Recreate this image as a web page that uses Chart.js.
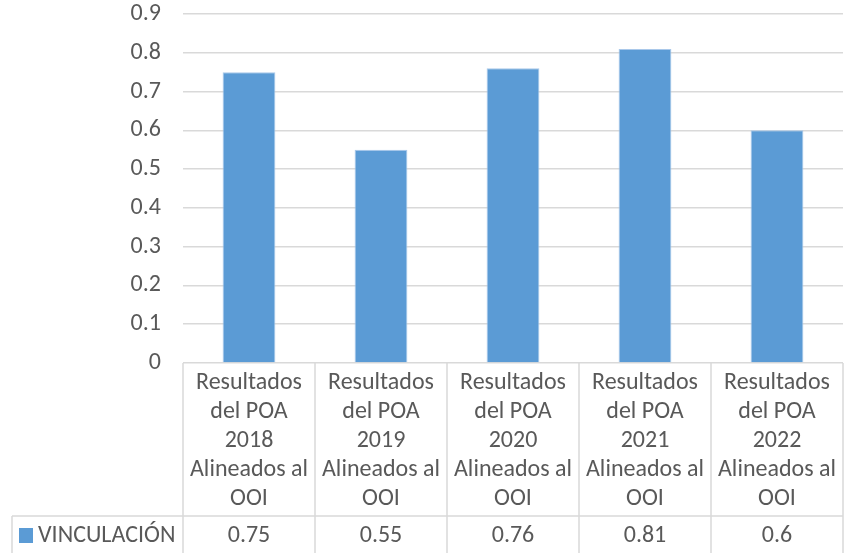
<!DOCTYPE html>
<html lang="es">
<head>
<meta charset="UTF-8">
<title>Vinculación</title>
<style>
  body { margin: 0; background: #fff; }
  #wrap { width: 853px; height: 553px; }
</style>
</head>
<body>
<div id="wrap"><canvas id="grafico"></canvas></div>
<script src="https://cdn.jsdelivr.net/npm/chart.js"></script>
<script>
  const CATEGORIAS = [
    ['Resultados', 'del POA', '2018', 'Alineados al', 'OOI'],
    ['Resultados', 'del POA', '2019', 'Alineados al', 'OOI'],
    ['Resultados', 'del POA', '2020', 'Alineados al', 'OOI'],
    ['Resultados', 'del POA', '2021', 'Alineados al', 'OOI'],
    ['Resultados', 'del POA', '2022', 'Alineados al', 'OOI']
  ];
  const SERIE = 'VINCULACIÓN';
  const VALORES = [0.75, 0.55, 0.76, 0.81, 0.6];

  const FUENTE = 'Carlito, "Liberation Sans Narrow", "Liberation Sans", sans-serif';
  const GRIS = '#d9d9d9';
  const TEXTO = '#595959';
  const AZUL = '#5b9bd5';

  // tabla de datos debajo del eje (como en Excel)
  const tablaDatos = {
    id: 'tablaDatos',
    afterDraw(chart) {
      const { ctx, chartArea, scales: { x } } = chart;
      const paso = x.getPixelForValue(1) - x.getPixelForValue(0);
      const inicio = x.getPixelForValue(0) - paso / 2;
      const arriba = chartArea.bottom;
      const filaValores = arriba + 153;
      const fondo = chart.height;

      ctx.save();
      ctx.strokeStyle = GRIS;
      ctx.lineWidth = 1.5;
      ctx.beginPath();
      for (let i = 0; i <= VALORES.length; i++) {
        const px = inicio + i * paso;
        ctx.moveTo(px, arriba);
        ctx.lineTo(px, fondo);
      }
      ctx.moveTo(12, filaValores);
      ctx.lineTo(inicio + VALORES.length * paso, filaValores);
      ctx.moveTo(12, filaValores);
      ctx.lineTo(12, fondo);
      ctx.stroke();

      ctx.fillStyle = TEXTO;
      ctx.font = '24px ' + FUENTE;
      ctx.textAlign = 'center';
      ctx.textBaseline = 'middle';
      CATEGORIAS.forEach((lineas, i) => {
        const cx = x.getPixelForValue(i);
        lineas.forEach((t, j) => ctx.fillText(t, cx, arriba + 20 + j * 29));
        ctx.fillText(String(VALORES[i]), cx, filaValores + 20);
      });

      ctx.fillStyle = AZUL;
      ctx.fillRect(19, filaValores + 12, 14, 15);
      ctx.fillStyle = TEXTO;
      ctx.textAlign = 'left';
      ctx.fillText(SERIE, 38, filaValores + 20);
      ctx.restore();
    }
  };

  new Chart(document.getElementById('grafico'), {
    type: 'bar',
    data: {
      labels: CATEGORIAS,
      datasets: [{
        label: SERIE,
        data: VALORES,
        backgroundColor: AZUL,
        borderColor: '#a9c8ea',
        borderWidth: 1,
        categoryPercentage: 1,
        barPercentage: 0.4
      }]
    },
    options: {
      responsive: true,
      maintainAspectRatio: false,
      animation: false,
      layout: { padding: { top: 14, bottom: 190, right: 10, left: 0 } },
      plugins: {
        legend: { display: false },
        tooltip: { enabled: false }
      },
      scales: {
        x: { display: false },
        y: {
          min: 0,
          max: 0.9,
          ticks: {
            stepSize: 0.1,
            color: TEXTO,
            padding: 22,
            font: { size: 24, family: FUENTE },
            callback: v => Math.round(v * 10) / 10
          },
          grid: { color: GRIS, lineWidth: 1.5, drawTicks: false },
          border: { display: false },
          afterFit: s => { s.width = 183; s.paddingTop = 0; s.paddingBottom = 0; }
        }
      }
    },
    plugins: [tablaDatos]
  });
</script>
</body>
</html>
